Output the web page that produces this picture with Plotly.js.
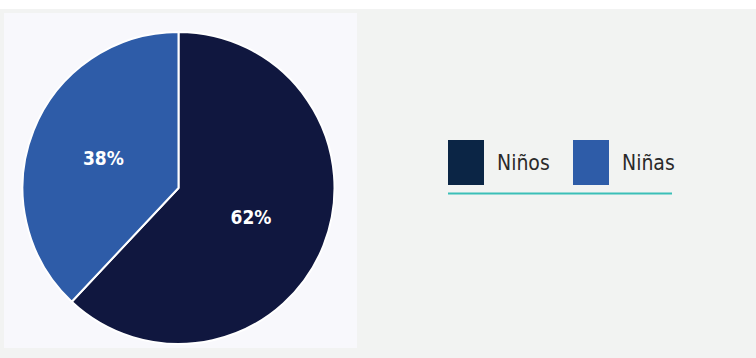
<!DOCTYPE html>
<html>
<head>
<meta charset="utf-8">
<script src="https://cdn.plot.ly/plotly-3.0.1.min.js"></script>
<style>
  html, body { margin: 0; padding: 0; background: #f2f3f2; }
  #chart { width: 756px; height: 358px; }
</style>
</head>
<body>
<div id="chart"></div>
<script>
// Data
const categories = ["Niños", "Niñas"];
const values = [62, 38];
const pieColors = ["#10173f", "#2e5ca8"];
const legendColors = ["#0b2545", "#2e5ca8"];

const W = 756, H = 358;
const px = (x) => x / W;
const py = (y) => 1 - y / H;

const trace = {
  type: "pie",
  labels: categories,
  values: values,
  sort: false,
  direction: "clockwise",
  rotation: 0,
  marker: { colors: pieColors, line: { color: "#ffffff", width: 2 } },
  textinfo: "percent",
  texttemplate: "%{percent:.0%}",
  textposition: "inside",
  insidetextorientation: "horizontal",
  insidetextfont: { color: "#ffffff", size: 19, family: "DejaVu Sans Condensed, Open Sans, sans-serif", weight: 600 },
  hoverinfo: "label+percent",
  showlegend: false,
  domain: { x: [px(22), px(335)], y: [py(344), py(32)] }
};

// Custom legend built from the category arrays
const shapes = [
  { type: "rect", xref: "paper", yref: "paper", x0: 0, x1: 1, y0: py(9), y1: 1,
    fillcolor: "#ffffff", line: { width: 0 }, layer: "below" },
  { type: "rect", xref: "paper", yref: "paper", x0: px(4), x1: px(357), y0: py(348), y1: py(13),
    fillcolor: "#f8f8fc", line: { width: 0 }, layer: "below" },
  { type: "line", xref: "paper", yref: "paper", x0: px(448), x1: px(672), y0: py(193.5), y1: py(193.5),
    line: { color: "#3bbfb8", width: 2 } }
];
const annotations = [];
const legendX = [448, 573];
categories.forEach((c, i) => {
  shapes.push({ type: "rect", xref: "paper", yref: "paper",
    x0: px(legendX[i]), x1: px(legendX[i] + 36), y0: py(185), y1: py(140),
    fillcolor: legendColors[i], line: { width: 0 } });
  annotations.push({ xref: "paper", yref: "paper", x: px(legendX[i] + 47), y: py(163),
    xanchor: "left", yanchor: "middle", text: c, showarrow: false,
    font: { family: "DejaVu Sans Condensed, Open Sans, sans-serif", size: 21, color: "#2a2a2a" } });
});

const layout = {
  width: W, height: H,
  margin: { l: 0, r: 0, t: 0, b: 0 },
  paper_bgcolor: "#f2f3f2",
  plot_bgcolor: "#f2f3f2",
  shapes: shapes,
  annotations: annotations
};

Plotly.newPlot("chart", [trace], layout, { displayModeBar: false, staticPlot: true });
</script>
</body>
</html>
